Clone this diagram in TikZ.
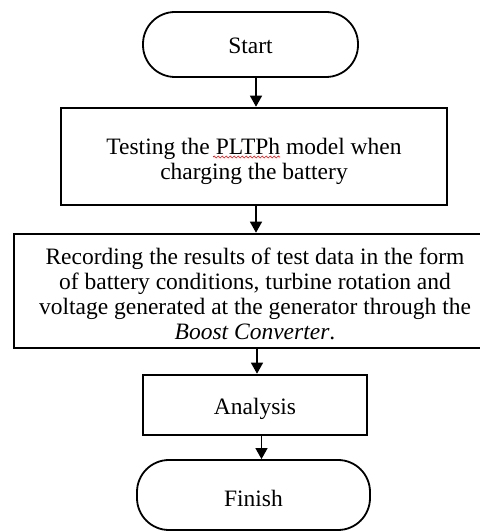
\documentclass[tikz,border=0pt]{standalone}
\usepackage{fontspec}
\setmainfont{Liberation Serif}
\usetikzlibrary{arrows.meta,decorations.pathmorphing}
\begin{document}
\begin{tikzpicture}[x=1pt,y=1pt,
  term/.style={draw, line width=1.8pt, rounded corners=32pt, inner sep=0pt, align=center},
  procbox/.style={draw, line width=2.6pt, inner sep=0pt, align=center},
  txt/.style={align=center, inner sep=0pt},
  flow/.style={line width=1.3pt, -{Triangle[width=12pt,length=11pt]}},
  spell/.style={red, line width=0.7pt, decorate, decoration={snake, amplitude=1pt, segment length=4pt}},
  font=\fontsize{23.5}{25}\selectfont]
\useasboundingbox (0,0) rectangle (480,531);
\clip (0,0) rectangle (480,531);
\node[term, minimum width=215pt, minimum height=65pt,
  label={[txt, yshift=-1pt]center:Start}] (start) at (250.5,486.5) {};
\node[procbox, minimum width=386pt, minimum height=97pt,
  label={[txt, yshift=-5pt]center:{Testing the PLTPh model when\\charging the battery}}] (test) at (254,374.5) {};
\node[procbox, minimum width=482pt, minimum height=114pt,
  label={[txt, yshift=-3pt]center:{Recording the results of test data in the form\\of battery conditions, turbine rotation and\\voltage generated at the generator through the\\\textit{Boost Converter}.}}] (rec) at (255,240) {};
\node[procbox, minimum width=224pt, minimum height=60pt,
  label={[txt, yshift=-4pt]center:Analysis}] (ana) at (255,126) {};
\node[term, minimum width=233pt, minimum height=70pt,
  label={[txt, yshift=-3pt]center:Finish}] (fin) at (253.5,36) {};
\coordinate (w1) at (213,374);
\coordinate (w2) at (280,374);
\draw[spell] (w1) -- (w2);
\draw[flow] ([xshift=5.5pt]start.south) -- ([xshift=5.5pt]start.south |- test.north);
\draw[flow] ([xshift=2pt]test.south) -- ([xshift=2pt]test.south |- rec.north);
\draw[flow] ([xshift=2pt]rec.south) -- ([xshift=2pt]rec.south |- ana.north);
\draw[flow] ([xshift=6.5pt]ana.south) -- ([xshift=6.5pt]ana.south |- fin.north);
\end{tikzpicture}
\end{document}
